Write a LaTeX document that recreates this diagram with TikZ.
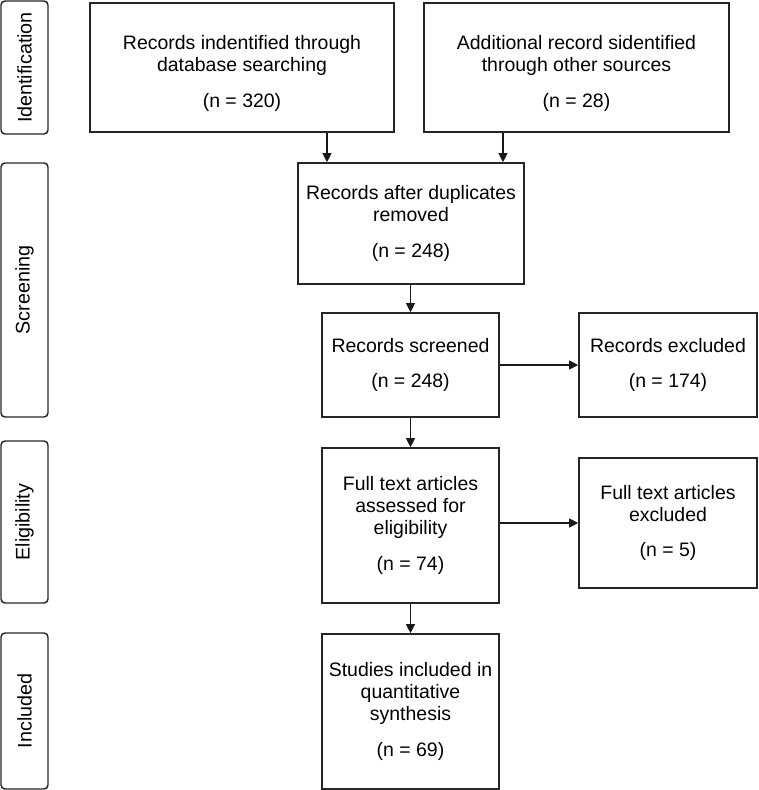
\documentclass[tikz,border=0pt]{standalone}
\usepackage{fontspec}
\setmainfont{Liberation Sans}
\usetikzlibrary{arrows.meta}
\begin{document}
\begin{tikzpicture}[x=0.75pt,y=-0.75pt,
  box/.style={draw=black!85, line width=1.1pt, rectangle, inner sep=0pt, align=center,
    font=\fontsize{14.6pt}{16.5pt}\selectfont},
  side/.style={draw=black!85, line width=1.1pt, rectangle, rounded corners=3pt, inner sep=0pt,
    minimum width=47*0.75pt},
  sidetext/.style={rotate=90, font=\fontsize{14.8pt}{16.5pt}\selectfont},
  arr/.style={line width=1.1pt, draw=black!90, -{Triangle[length=6.8pt,width=6.6pt]}}]
\useasboundingbox (0,0) rectangle (758,790);
% side labels
\node[side, minimum height=133*0.75pt] (sid) at (24.5,67.5) {};
\node[sidetext] (tid) at (sid.center) {Identification};
\node[side, minimum height=254*0.75pt] (ssc) at (24.5,290) {};
\node[sidetext] (tsc) at (ssc.center) {Screening};
\node[side, minimum height=162*0.75pt] (sel) at (24.5,522) {};
\node[sidetext] (tel) at (sel.center) {Eligibility};
\node[side, minimum height=156*0.75pt] (sin) at (24.5,711) {};
\node[sidetext] (tin) at (sin.center) {Included};
% boxes
\node[box, minimum width=304*0.75pt, minimum height=129*0.75pt] (b1) at (242,67.5)
  {\rule{0pt}{19.5pt}Records indentified through\\database searching\\[10pt](n = 320)};
\node[box, minimum width=305*0.75pt, minimum height=129*0.75pt] (b2) at (576.5,67.5)
  {\rule{0pt}{19.5pt}Additional record sidentified\\through other sources\\[10pt](n = 28)};
\node[box, minimum width=226*0.75pt, minimum height=121*0.75pt] (b3) at (411,223.5)
  {Records after duplicates\\removed\\[10pt](n = 248)};
\node[box, minimum width=177*0.75pt, minimum height=104*0.75pt] (b4) at (410.5,365)
  {Records screened\\[10pt](n = 248)};
\node[box, minimum width=178*0.75pt, minimum height=104*0.75pt] (b5) at (668,365)
  {Records excluded\\[10pt](n = 174)};
\node[box, minimum width=177*0.75pt, minimum height=155*0.75pt] (b6) at (410.5,525.5)
  {Full text articles\\assessed for\\eligibility\\[10pt](n = 74)};
\node[box, minimum width=178*0.75pt, minimum height=130*0.75pt] (b7) at (668,523)
  {Full text articles\\excluded\\[10pt](n = 5)};
\node[box, minimum width=177*0.75pt, minimum height=155*0.75pt] (b8) at (410.5,711.5)
  {Studies included in\\quantitative\\synthesis\\[10pt](n = 69)};
% connectors
\coordinate (c1) at (327,0);
\coordinate (c2) at (503,0);
\draw[arr] (b1.south -| c1) -- (b3.north -| c1);
\draw[arr] (b2.south -| c2) -- (b3.north -| c2);
\draw[arr] (b3.south -| b4.north) -- (b4.north);
\draw[arr] (b4.east) -- (b5.west);
\draw[arr] (b4.south) -- (b6.north);
\draw[arr] (b6.east |- b7.west) -- (b7.west);
\draw[arr] (b6.south) -- (b8.north);
\end{tikzpicture}
\end{document}
